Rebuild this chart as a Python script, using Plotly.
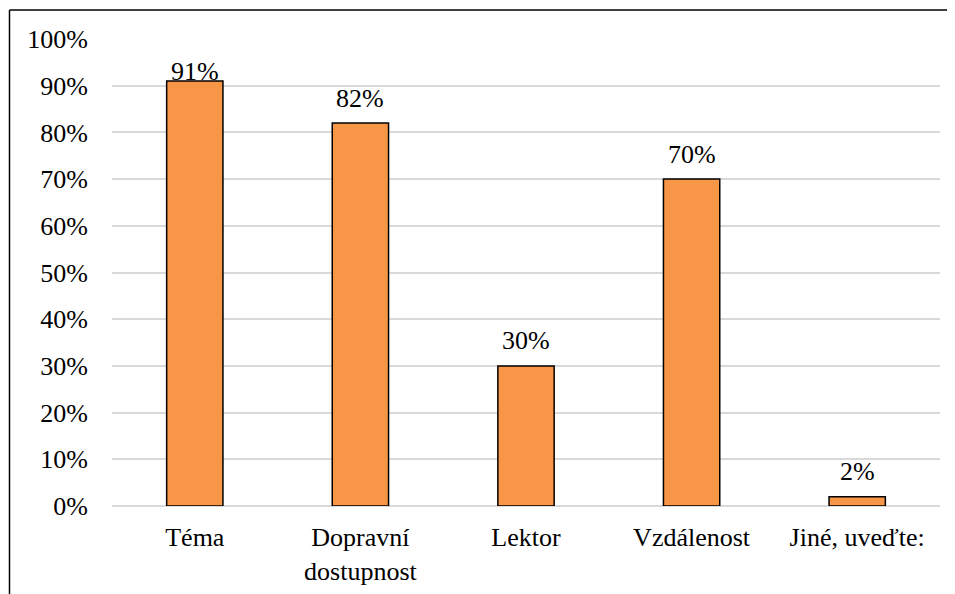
import plotly.graph_objects as go

categories = ["Téma", "Dopravní<br>dostupnost", "Lektor", "Vzdálenost", "Jiné, uveďte:"]
shares = [0.91, 0.82, 0.30, 0.70, 0.02]
labels = ["91%", "82%", "30%", "70%", "2%"]
tick_vals = [i / 10 for i in range(11)]
tick_text = [f"{i * 10}%" for i in range(11)]

FONT = "Liberation Serif"
SIZE = 26
LABEL_OFFSET = 0.0535   # gap between bar top and label centre, in axis units
LABEL_CAP = 0.93        # labels are pushed down to stay inside the plot

fig = go.Figure(
    go.Bar(
        x=categories,
        y=shares,
        marker=dict(color="#F79646", line=dict(color="black", width=1.5)),
        cliponaxis=False,
    )
)

for cat, val, lab in zip(categories, shares, labels):
    fig.add_annotation(
        x=cat, y=min(val + LABEL_OFFSET, LABEL_CAP),
        text=lab, showarrow=False, yanchor="middle",
        font=dict(family=FONT, size=SIZE, color="black"),
    )

# the page body adds an 8px offset, so margins are trimmed to compensate
fig.update_layout(
    width=955,
    height=594,
    margin=dict(l=104, r=23, t=31, b=96),
    paper_bgcolor="white",
    plot_bgcolor="white",
    bargap=0.66,
    showlegend=False,
    font=dict(family=FONT, size=SIZE, color="black"),
    xaxis=dict(showgrid=False, showline=False, ticks="",
               tickfont=dict(family=FONT, size=SIZE, color="black"),
               ticklabelstandoff=13),
    yaxis=dict(
        range=[0, 1],
        tickvals=tick_vals,
        ticktext=tick_text,
        tickfont=dict(family=FONT, size=SIZE, color="black"),
        showgrid=True,
        gridcolor="#d9d9d9",
        gridwidth=1.5,
        zeroline=True,
        zerolinecolor="#d9d9d9",
        zerolinewidth=1.5,
        ticks="",
        ticklabelstandoff=23,
    ),
)

# chart frame (top and left edges visible in the crop)
fig.add_shape(type="line", xref="paper", yref="paper",
              x0=-0.1238, x1=1.03, y0=1.062, y1=1.062,
              line=dict(color="black", width=1.5))
fig.add_shape(type="line", xref="paper", yref="paper",
              x0=-0.1238, x1=-0.1238, y0=1.062, y1=-0.25,
              line=dict(color="black", width=1.5))

fig.write_html("out.html")
